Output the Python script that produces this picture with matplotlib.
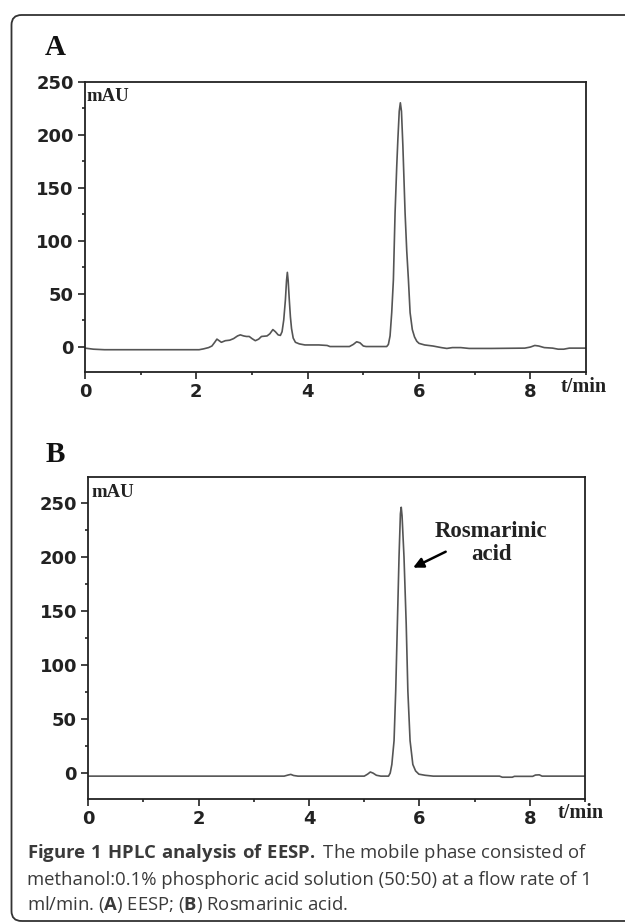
import matplotlib
matplotlib.use('Agg')
import matplotlib.pyplot as plt
from matplotlib.patches import FancyBboxPatch
from matplotlib.ticker import MultipleLocator

# 色谱数据 (从图上读出的点)
time_a = [0.00, 0.15, 0.35, 1.00, 1.60, 2.05, 2.13, 2.22, 2.28, 2.33, 2.37, 2.41,
          2.45, 2.52, 2.60, 2.67, 2.74, 2.79, 2.85, 2.90, 2.95, 3.00, 3.06, 3.12,
          3.17, 3.27, 3.32, 3.375, 3.42, 3.47, 3.51, 3.54, 3.57, 3.60, 3.62, 3.635,
          3.65, 3.67, 3.69, 3.71, 3.74, 3.78, 3.85, 3.95, 4.20, 4.35, 4.40, 4.75,
          4.82, 4.88, 4.94, 5.00, 5.05, 5.42, 5.45, 5.48, 5.51, 5.54, 5.57, 5.60,
          5.62, 5.645, 5.665, 5.685, 5.71, 5.75, 5.78, 5.81, 5.84, 5.88, 5.92, 5.96,
          6.00, 6.10, 6.25, 6.40, 6.50, 6.60, 6.75, 6.90, 7.30, 7.90, 8.00, 8.08,
          8.15, 8.25, 8.40, 8.50, 8.60, 8.70, 9.00]
mau_a = [-1.5, -2.5, -3.0, -3.0, -3.0, -3.0, -2.2, -1.0, 0.5, 4.0, 7.0, 5.5,
         4.0, 5.5, 6.0, 7.5, 10.0, 11.0, 10.0, 9.5, 9.5, 7.5, 5.5, 7.0,
         9.5, 10.0, 12.0, 16.0, 14.0, 11.0, 10.5, 14.0, 25.0, 44.0, 62.0, 70.0,
         62.0, 44.0, 28.0, 17.0, 8.0, 4.0, 2.5, 1.5, 1.5, 1.0, 0.0, 0.0,
         2.0, 4.5, 3.5, 0.5, 0.0, 0.0, 2.0, 10.0, 32.0, 63.0, 126.0, 170.0,
         195.0, 222.0, 230.0, 222.0, 190.0, 126.0, 90.0, 63.0, 32.0, 16.0, 9.0, 5.0,
         3.0, 1.5, 0.5, -1.0, -1.8, -1.0, -1.0, -1.8, -1.8, -1.5, -0.5, 1.0,
         0.5, -1.0, -1.5, -2.5, -2.5, -1.5, -1.5]

time_b = [0.00, 3.55, 3.62, 3.67, 3.72, 3.80, 5.00, 5.06, 5.11, 5.16, 5.22, 5.30,
          5.44, 5.47, 5.50, 5.54, 5.57, 5.60, 5.63, 5.655, 5.67, 5.685, 5.72, 5.76,
          5.79, 5.83, 5.88, 5.93, 5.99, 6.10, 6.25, 7.45, 7.50, 7.68, 7.72, 8.05,
          8.10, 8.17, 8.22, 9.00]
mau_b = [-2.8, -2.8, -1.8, -1.2, -2.2, -2.8, -2.8, -1.0, 1.0, 0.0, -2.0, -2.8,
         -2.8, 0.0, 8.0, 30.0, 76.0, 138.0, 200.0, 240.0, 246.0, 238.0, 200.0, 138.0,
         76.0, 30.0, 8.0, 2.0, -1.0, -2.0, -2.8, -2.8, -3.8, -3.8, -3.0, -3.0,
         -1.8, -1.6, -2.8, -2.8]

x_ticks = [0, 2, 4, 6, 8]
y_ticks = [0, 50, 100, 150, 200, 250]

plt.rcParams['mathtext.fontset'] = 'custom'
plt.rcParams['mathtext.rm'] = 'Open Sans'
plt.rcParams['mathtext.bf'] = 'Open Sans:bold'

fig = plt.figure(figsize=(6.25, 9.23), dpi=100)

# 外框
frame = FancyBboxPatch((0.115, 0.02), 6.5, 9.06, boxstyle='round,pad=0,rounding_size=0.1',
                       transform=fig.dpi_scale_trans, fill=False, edgecolor='#333333',
                       linewidth=1.3, clip_on=False)
fig.patches.append(frame)

ax_a = fig.add_axes([0.136, 0.597, 0.8016, 0.3146])
ax_b = fig.add_axes([0.141, 0.1343, 0.7952, 0.3489])

serif = ['Liberation Serif', 'DejaVu Serif']


def style_axes(ax, ymax):
    ax.set_xlim(0, 9)
    ax.set_ylim(-24, ymax)
    ax.set_xticks(x_ticks)
    ax.set_yticks(y_ticks)
    ax.xaxis.set_minor_locator(MultipleLocator(1))
    ax.yaxis.set_minor_locator(MultipleLocator(25))
    ax.tick_params(which='major', direction='out', length=5, width=1.2, color='#222222',
                   labelsize=13, pad=3, labelcolor='#222222')
    ax.tick_params(which='minor', direction='out', length=2.5, width=1.2, color='#222222')
    for lab in ax.get_xticklabels() + ax.get_yticklabels():
        lab.set_fontweight('bold')
        lab.set_family('DejaVu Sans')
    for sp in ax.spines.values():
        sp.set_linewidth(1.3)
        sp.set_color('#222222')


ax_a.plot(time_a, mau_a, color='#555555', linewidth=1.2)
style_axes(ax_a, 250)
ax_a.text(0.03, 235.6, 'mAU', family=serif, fontweight='bold', fontsize=13.5,
          ha='left', va='center', color='#222222')
ax_a.text(0.95, -0.052, 't/min', transform=ax_a.transAxes, family=serif,
          fontweight='bold', fontsize=14.5, ha='left', va='center', color='#222222')

ax_b.plot(time_b, mau_b, color='#555555', linewidth=1.2)
style_axes(ax_b, 274)
ax_b.text(0.06, 260, 'mAU', family=serif, fontweight='bold', fontsize=13.5,
          ha='left', va='center', color='#222222')
ax_b.text(0.945, -0.043, 't/min', transform=ax_b.transAxes, family=serif,
          fontweight='bold', fontsize=14.5, ha='left', va='center', color='#222222')
ax_b.text(7.3, 213, 'Rosmarinic\nacid', family=serif, fontweight='bold', fontsize=16.5,
          ha='center', va='center', linespacing=1.1, color='#222222')
ax_b.annotate('', xy=(5.84, 189), xytext=(6.52, 206),
              arrowprops=dict(arrowstyle='-|>', color='black', lw=1.8, mutation_scale=15))

# 面板标签
fig.text(0.088, 0.949, 'A', family=serif, fontweight='bold', fontsize=21,
         ha='center', va='center', color='#111111')
fig.text(0.088, 0.508, 'B', family=serif, fontweight='bold', fontsize=21,
         ha='center', va='center', color='#111111')

# 图注
cap_color = '#3a3a3a'
fig.text(0.043, 1 - 858 / 923, r'$\mathbf{Figure\ 1\ HPLC\ analysis\ of\ EESP.}$ The mobile phase consisted of',
         family='Open Sans', fontsize=13.3, ha='left', va='baseline', color=cap_color)
fig.text(0.043, 1 - 885 / 923, 'methanol:0.1% phosphoric acid solution (50:50) at a flow rate of 1',
         family='Open Sans', fontsize=13.3, ha='left', va='baseline', color=cap_color)
fig.text(0.043, 1 - 910 / 923, r'ml/min. ($\mathbf{A}$) EESP; ($\mathbf{B}$) Rosmarinic acid.',
         family='Open Sans', fontsize=13.3, ha='left', va='baseline', color=cap_color)

fig.savefig('out.png', dpi=100)
